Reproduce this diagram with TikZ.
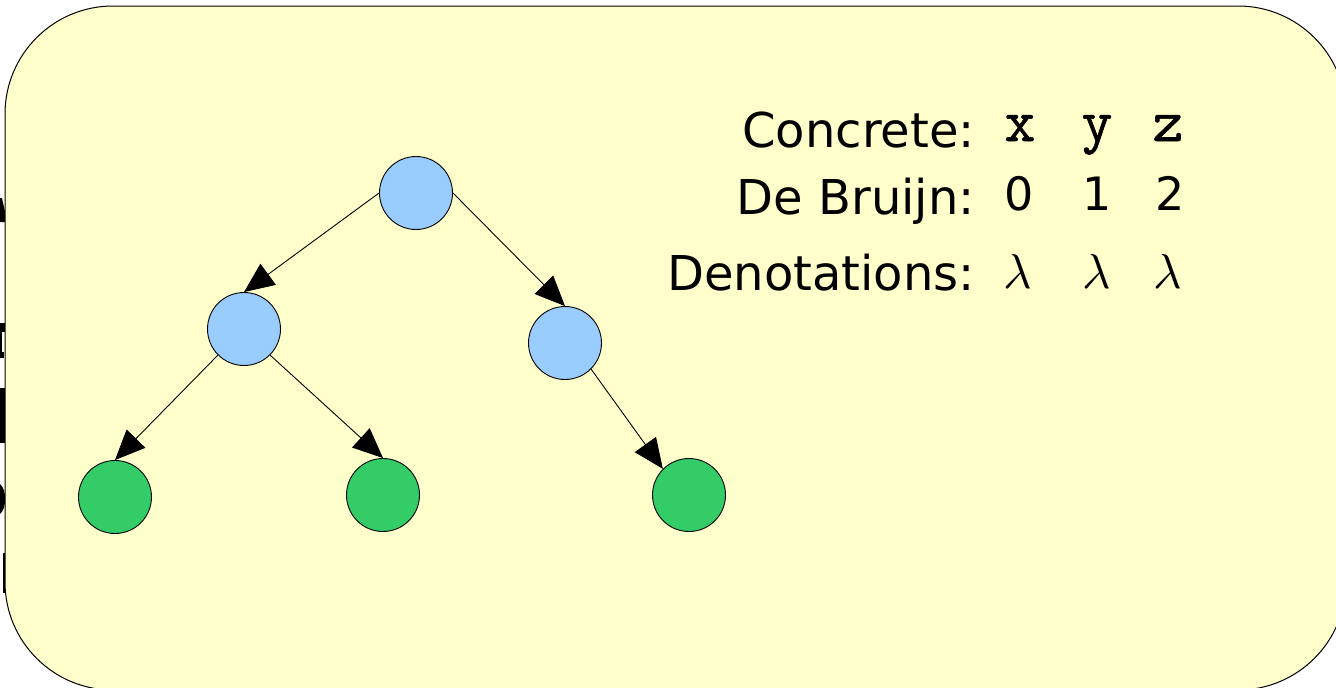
\documentclass[tikz,border=0pt]{standalone}
\usepackage{graphicx}
\usepackage{fontspec}
\setmainfont{DejaVu Sans}
\newfontfamily\varfont[FakeBold=1]{Latin Modern Mono}
\usetikzlibrary{arrows.meta}

\definecolor{panel}{HTML}{FFFFCC}
\definecolor{inner}{HTML}{99CCFF}
\definecolor{leaf}{HTML}{33CC66}

\newcommand{\biglambda}{\scalebox{4.9}{$\lambda$}}

\tikzset{
  treenode/.style={circle, draw=black, line width=0.9pt, minimum size=73pt, inner sep=0pt},
  innernode/.style={treenode, fill=inner},
  leafnode/.style={treenode, fill=leaf},
  edge/.style={line width=0.9pt, -{Triangle[length=30pt, width=26pt]}},
  rowlabel/.style={anchor=base east, inner sep=0pt, font=\fontsize{48}{52}\selectfont},
  varname/.style={anchor=base, inner sep=0pt, font=\fontsize{60}{62}\selectfont\varfont},
  index/.style={anchor=base, inner sep=0pt, font=\fontsize{46}{50}\selectfont},
  denot/.style={anchor=base, inner sep=0pt},
}

\begin{document}
\begin{tikzpicture}[x=1pt, y=-1pt]
\useasboundingbox (0,0) rectangle (1336,688);
\clip (0,0) rectangle (1336,688);

% glyph fragments peeking out on the far left
\fill[black] (0,198) -- (2,198) -- (6,216) -- (6,222) -- (0,222) -- cycle;
\fill[black] (0,323) rectangle (6,332);
\fill[black] (0,332) rectangle (1.5,352);
\fill[black] (0,352) rectangle (4,358);
\fill[black] (0,388) rectangle (6,443);
\fill[black] (0,484) .. controls (7,490) and (7,508) .. (0,514) -- cycle;
\fill[black] (3,553) rectangle (6,593);

% rounded panel
\draw[fill=panel, line width=1pt, rounded corners=108pt] (5,6) rectangle (1346,690);

% tree
\node[innernode] (root) at (416,193) {};
\node[innernode] (lmid) at (244,329) {};
\node[innernode] (rmid) at (565,343) {};
\node[leafnode] (l1) at (115,497) {};
\node[leafnode] (l2) at (383,495) {};
\node[leafnode] (l3) at (689,495) {};

\draw[edge] (root.west) -- (lmid.north);
\draw[edge] (root.east) -- (rmid.north);
\draw[edge] (lmid.south west) -- (l1.north);
\draw[edge] (lmid.south east) -- (l2.north);
\draw[edge] (rmid.south east) -- (l3.north west);

% legend
\node[rowlabel] (lc) at (975,147) {Concrete:};
\node[rowlabel] (ld) at (975,214) {De Bruijn:};
\node[rowlabel] (le) at (975,290) {Denotations:};

\node[varname] (vx) at (1020,141) {x};
\node[varname] (vy) at (1097,141) {y};
\node[varname] (vz) at (1168,141) {z};

\node[index] (i0) at (1019,210) {0};
\node[index] (i1) at (1097,210) {1};
\node[index] (i2) at (1170,210) {2};

\node[denot] (d0) at (1018,288) {\biglambda};
\node[denot] (d1) at (1097,288) {\biglambda};
\node[denot] (d2) at (1168,288) {\biglambda};
\end{tikzpicture}
\end{document}
